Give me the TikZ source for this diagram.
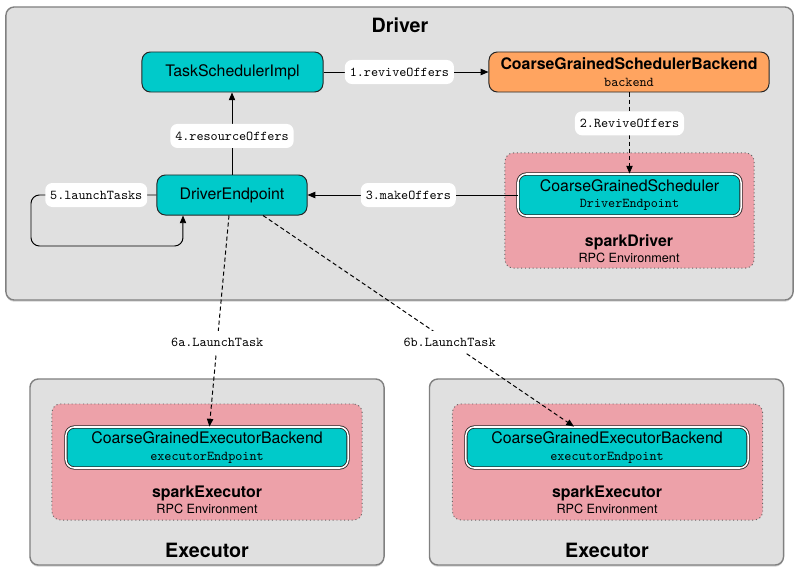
\documentclass[tikz,border=0pt]{standalone}
\usepackage{fontspec}
\setmainfont{TeX Gyre Heros}
\usetikzlibrary{arrows.meta,shadows}

\definecolor{panelgray}{RGB}{224,224,224}
\definecolor{rpcpink}{RGB}{237,161,169}
\definecolor{cyanbox}{RGB}{0,202,202}
\definecolor{orangebox}{RGB}{255,164,96}

\newcommand{\mainsz}{\fontsize{11.3pt}{11.6pt}\selectfont}
\newcommand{\subsz}{\fontsize{9.6pt}{11.4pt}\selectfont\ttfamily}
\newcommand{\titlesz}{\fontsize{14pt}{16pt}\selectfont\bfseries}

\tikzset{
  panel/.style={draw=black!50, line width=1pt, fill=panelgray, rounded corners=6pt,
    drop shadow={shadow xshift=0pt, shadow yshift=-1.2pt, opacity=0.35}},
  rpcenv/.style={draw=black!60, dotted, fill=rpcpink, rounded corners=6pt},
  comp/.style={draw=black!85, line width=0.7pt, fill=cyanbox, rounded corners=6pt,
    minimum height=1cm, align=center, font=\mainsz},
  endpt/.style={comp, double=white, double distance=1.1pt, line width=0.6pt},
  msg/.style={fill=white, rounded corners=5pt, font=\subsz, inner xsep=3.5pt,
    minimum height=0.6cm},
  launch/.style={fill=white, font=\subsz, inner sep=5pt},
  rpc/.style={dash pattern=on 3pt off 2pt}
}

\begin{document}
\begin{tikzpicture}[x=0.025cm, y=-0.025cm, >={Triangle[length=5.5pt,width=4.5pt]}, line width=0.7pt]
  \useasboundingbox (0,0) rectangle (800,572);

  \node[panel, minimum width=19.675cm, minimum height=7.325cm] (driver) at (399.5,153.5) {};
  \node[font=\titlesz] (drivertitle) at (400,25) {Driver};
  \node[rpcenv, minimum width=6.225cm, minimum height=2.875cm] (drvenv) at (629.5,210.5) {};
  \node[font=\mainsz\bfseries] (drvname) at (629,242) {sparkDriver};
  \node[font=\fontsize{9pt}{10pt}\selectfont] (drvrpc) at (629,257.5) {RPC Environment};

  \node[panel, minimum width=8.85cm, minimum height=4.65cm] (exec1) at (207,472) {};
  \node[font=\titlesz] (exec1title) at (207,550) {Executor};
  \node[rpcenv, minimum width=7.75cm, minimum height=2.9cm] (env1) at (207,462) {};
  \node[font=\mainsz\bfseries] (env1name) at (207,493) {sparkExecutor};
  \node[font=\fontsize{9pt}{10pt}\selectfont] (env1rpc) at (207,508.5) {RPC Environment};

  \node[panel, minimum width=8.85cm, minimum height=4.65cm] (exec2) at (606.5,472) {};
  \node[font=\titlesz] (exec2title) at (607,550) {Executor};
  \node[rpcenv, minimum width=7.75cm, minimum height=2.9cm] (env2) at (607.5,462) {};
  \node[font=\mainsz\bfseries] (env2name) at (607,493) {sparkExecutor};
  \node[font=\fontsize{9pt}{10pt}\selectfont] (env2rpc) at (607,508.5) {RPC Environment};

  \node[comp, minimum width=4.525cm] (tsi) at (232.5,72) {TaskSchedulerImpl};
  \node[comp, fill=orangebox, minimum width=7cm] (cgsb) at (629,72)
    {\textbf{CoarseGrainedSchedulerBackend}\\{\subsz backend}};
  \node[comp, minimum width=3.75cm] (de) at (232,195) {DriverEndpoint};
  \node[endpt, minimum width=5.575cm, minimum height=1.05cm] (cgs) at (629.5,195)
    {CoarseGrainedScheduler\\{\subsz DriverEndpoint}};
  \node[endpt, minimum width=7.05cm, minimum height=1.025cm] (cgeb1) at (207,447.5)
    {CoarseGrainedExecutorBackend\\{\subsz executorEndpoint}};
  \node[endpt, minimum width=7.05cm, minimum height=1.025cm] (cgeb2) at (607,447.5)
    {CoarseGrainedExecutorBackend\\{\subsz executorEndpoint}};

  \coordinate (loopend) at ([xshift=-1.225cm]de.south);

  \draw[->] (tsi) -- node[msg, pos=0.46] {1.reviveOffers} (cgsb);
  \draw[->, rpc] (cgsb.south -| cgs.north) -- node[msg, pos=0.38] {2.ReviveOffers} (cgs.north);
  \draw[->] (cgs.west) -- node[msg, pos=0.52] {3.makeOffers} (cgs.west -| de.east);
  \draw[->] (de.north) -- node[msg, pos=0.47] {4.resourceOffers} (de.north |- tsi.south);
  \draw[->, rounded corners=6pt] (de.west) -- node[msg, pos=0.48] {5.launchTasks} (31,195)
    -- (31,246) -| (loopend);
  \draw[->, rpc] ([xshift=-0.075cm]de.south) -- node[launch, pos=0.6] {6a.LaunchTask}
    ([xshift=0.06cm]cgeb1.north);
  \draw[->, rpc] ([xshift=0.775cm]de.south) -- node[launch, pos=0.6] {6b.LaunchTask}
    ([xshift=-0.825cm]cgeb2.north);
\end{tikzpicture}
\end{document}
